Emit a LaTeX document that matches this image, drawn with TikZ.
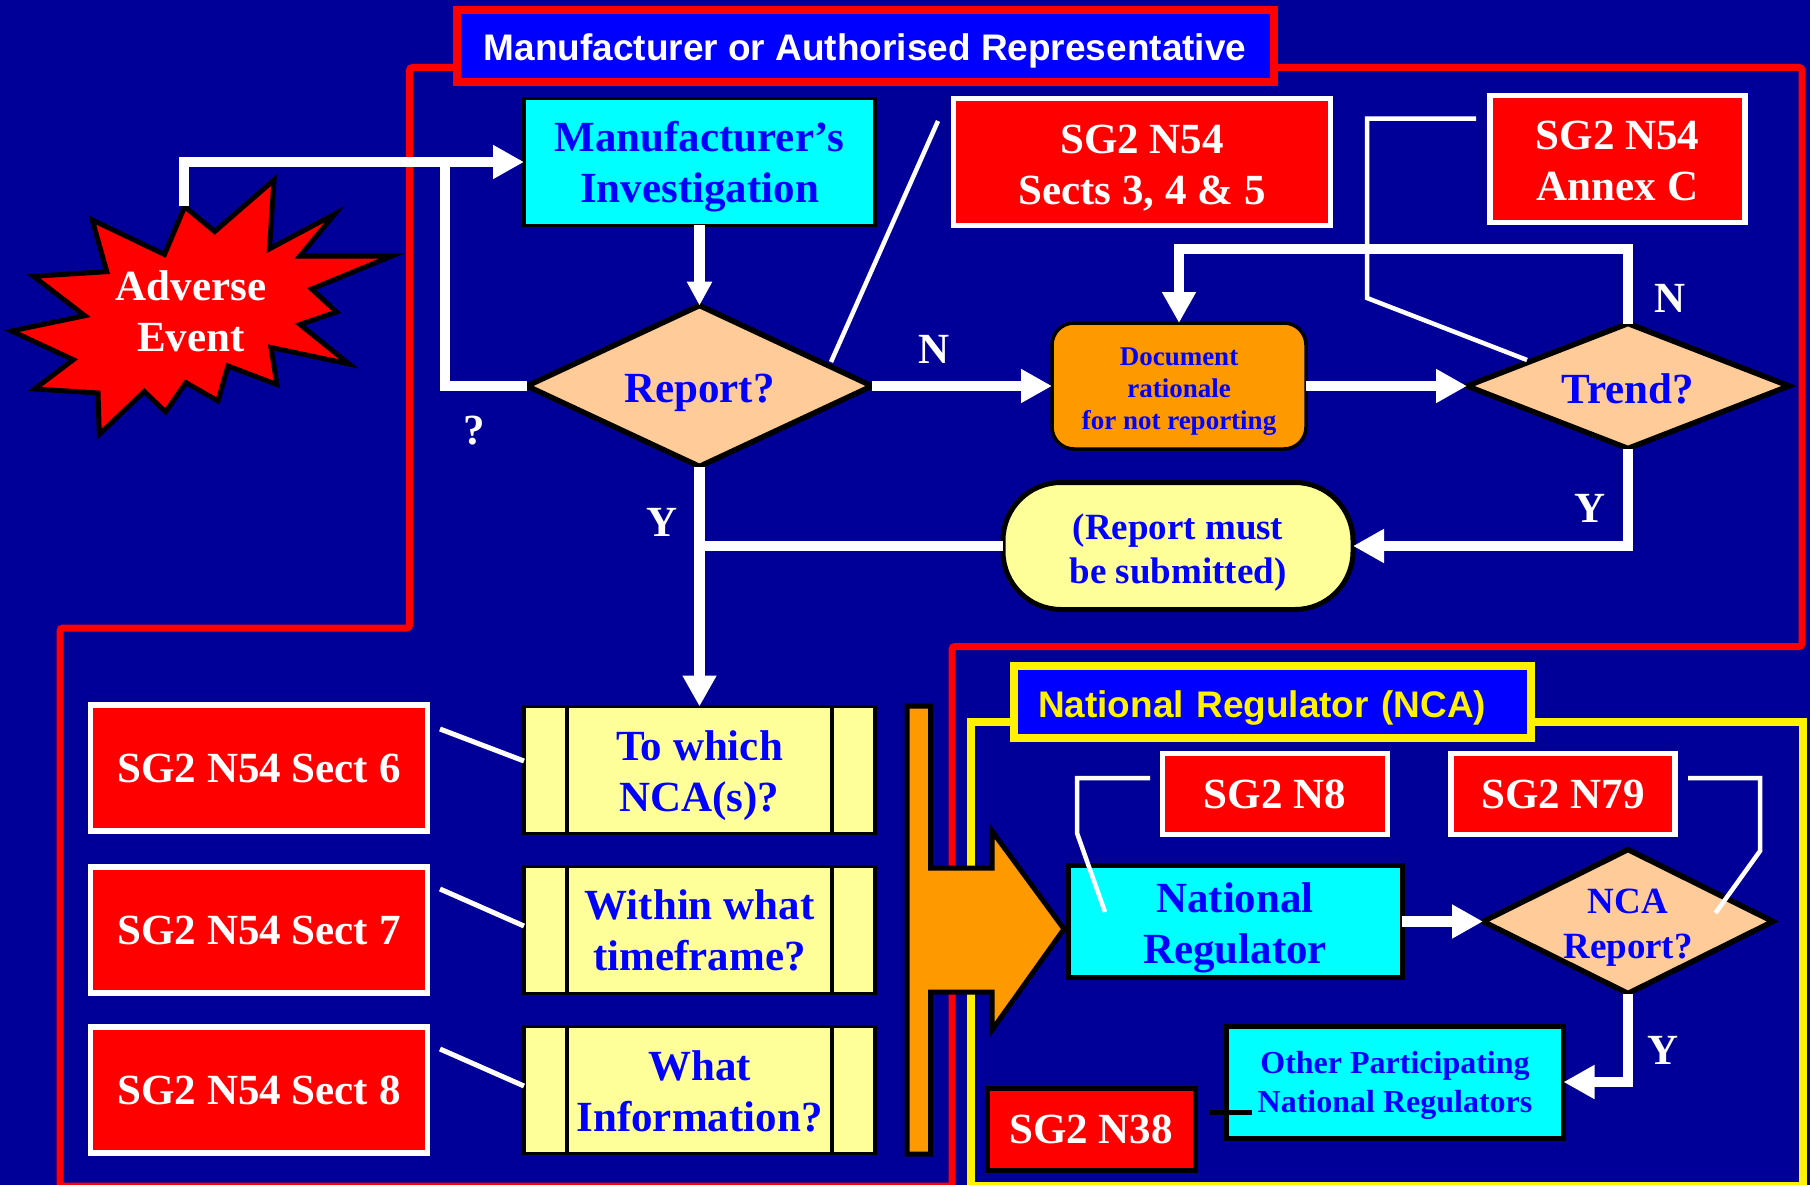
\documentclass[tikz,border=0pt]{standalone}
\usepackage{fontspec}
\setmainfont{Liberation Serif}
\newfontfamily\headfont{Liberation Sans}
\usetikzlibrary{arrows.meta,shapes.geometric}
\definecolor{navybg}{RGB}{0,0,153}
\definecolor{purered}{RGB}{255,0,0}
\definecolor{pureblue}{RGB}{0,0,255}
\definecolor{purecyan}{RGB}{0,255,255}
\definecolor{peach}{RGB}{255,204,153}
\definecolor{paleyellow}{RGB}{255,255,153}
\definecolor{pureorange}{RGB}{255,153,0}
\begin{document}
\begin{tikzpicture}[x=1pt,y=-1pt,
    box/.style={inner sep=0pt,outer sep=0pt,align=center},
    lowered/.style={execute at begin node={\rule{0pt}{#1}}},
    bigtext/.style={font=\bfseries\fontsize{43}{51}\selectfont},
    refbox/.style={box,bigtext,draw=white,line width=5.5pt,fill=purered,text=white},
    regbox/.style={box,bigtext,draw=black,fill=purecyan,text=pureblue},
    question/.style={box,bigtext,draw=black,line width=3.5pt,fill=paleyellow,text=pureblue,minimum width=351pt,minimum height=127pt},
    decision/.style={box,shape=diamond,bigtext,draw=black,line width=5.5pt,fill=peach,text=pureblue},
    titlebox/.style={box,font=\headfont\bfseries\fontsize{37}{44}\selectfont,line width=8pt,fill=pureblue},
    outline/.style={line width=7pt,rounded corners=3pt},
    flow/.style={draw=white,line width=10.5pt},
    flowtip/.style={flow,-{Triangle[length=31pt,width=32pt]}},
    leader/.style={draw=white,line width=4.5pt},
    tag/.style={bigtext,text=white,inner sep=0pt}]
    % Background
    \fill[navybg] (0,0) rectangle (1810,1185);
    \useasboundingbox (0,0) rectangle (1810,1185);
    % Organisation outlines
    \draw[outline,purered] (409.5,67.5) -- (1802,67.5) -- (1802,646.5) -- (952,646.5) -- (952,1186)
        -- (60,1186) -- (60,628) -- (409.5,628) -- cycle;
    \draw[line width=8pt,yellow] (971,722) rectangle (1803,1186);
    \node[titlebox,lowered=36pt,draw=purered,text=white,minimum width=817pt,minimum height=72pt] (mfrtitle) at (865,46)
        {Manufacturer or Authorised Representative};
    \node[titlebox,lowered=38pt,draw=yellow,text=yellow,minimum height=72pt,inner xsep=24pt,text width=469pt,align=left] (ncatitle) at (1272.5,702)
        {National Regulator (NCA)};
    % Adverse event burst
    \draw[line width=5pt,fill=purered,miter limit=10] (184.7,206.7) -- (214.7,231.5) -- (274,180) -- (269.5,248.8)
        -- (334.8,214) -- (300,256) -- (392,256) -- (311.7,289) -- (336.5,312) -- (300,324.5)
        -- (349,364) -- (271,347.5) -- (277,384.6) -- (228,366) -- (218,401) -- (186,382.7)
        -- (165.6,412) -- (144.3,391.5) -- (99.3,434.4) -- (98,393) -- (34.6,389) -- (73.3,359.7)
        -- (11.5,331) -- (84.8,315.7) -- (33.5,276.3) -- (106.8,271.7) -- (92.3,220) -- (164.5,254.5) -- cycle;
    \node[box,bigtext,text=white] (adverse) at (191,311.5) {Adverse\\Event};
    \coordinate (burstTop) at (184,206);
    % Upper flow
    \node[regbox,lowered=91pt,line width=3.5pt,minimum width=351pt,minimum height=127pt] (manuf) at (699.5,162) {Manufacturer’s\\Investigation};
    \node[decision,lowered=42pt,aspect=2.143,minimum width=345pt,minimum height=161pt] (report) at (699.5,386) {Report?};
    \node[box,lowered=92pt,draw=black,line width=3.5pt,fill=pureorange,text=pureblue,rounded corners=22pt,
        font=\bfseries\fontsize{27}{32}\selectfont,minimum width=254pt,minimum height=126pt] (rationale) at (1179,386)
        {Document\\rationale\\for not reporting};
    \node[decision,lowered=36pt,aspect=2.576,minimum width=322pt,minimum height=125pt] (trend) at (1628,386) {Trend?};
    \node[box,lowered=82pt,draw=black,line width=5pt,fill=paleyellow,text=pureblue,rounded corners=58pt,
        font=\bfseries\fontsize{37}{44}\selectfont,minimum width=350pt,minimum height=127pt] (submit) at (1178,546)
        {(Report must\\be submitted)};
    % Guidance references, upper
    \node[refbox,lowered=91pt,minimum width=377pt,minimum height=127pt] (sects) at (1142,162) {SG2 N54\\Sects 3, 4 \& 5};
    \node[refbox,lowered=83pt,minimum width=255pt,minimum height=127pt] (annex) at (1617.5,159) {SG2 N54\\Annex C};
    % Three questions with their references
    \foreach \i/\yr/\yq/\low/\sect/\txt in {1/768/770/92pt/6/{To which\\NCA(s)?},2/930/930/81pt/7/{Within what\\timeframe?},3/1090/1090/84pt/8/{What\\Information?}} {
        \node[refbox,minimum width=337pt,minimum height=126pt] (sect\i) at (259,\yr) {SG2 N54 Sect \sect};
        \node[question,lowered=\low] (ques\i) at (699.5,\yq) {\txt};
        \draw[line width=3.5pt] ([xshift=43pt]ques\i.north west) -- ([xshift=43pt]ques\i.south west);
        \draw[line width=3.5pt] ([xshift=-43pt]ques\i.north east) -- ([xshift=-43pt]ques\i.south east);
    }
    % Big arrow to the regulator
    \draw[line width=5pt,fill=pureorange] (907,706) -- (930.5,706) -- (930.5,868) -- (992,868) -- (992,831) -- (1064,929)
        -- (992,1030) -- (992,992) -- (930.5,992) -- (930.5,1154) -- (907,1154) -- cycle;
    % Regulator flow
    \node[regbox,lowered=94pt,line width=5pt,minimum width=334pt,minimum height=112pt] (natreg) at (1235,921.5) {National\\Regulator};
    \node[decision,lowered=82pt,inner ysep=-9pt,aspect=2.014,font=\bfseries\fontsize{37}{45}\selectfont,minimum width=290pt,minimum height=144pt] (ncareport) at (1628,921.5) {NCA\\Report?};
    \node[regbox,lowered=69pt,line width=5pt,font=\bfseries\fontsize{32}{39}\selectfont,minimum width=337pt,minimum height=112pt] (others) at (1395,1082)
        {Other Participating\\National Regulators};
    \node[refbox,minimum width=225pt,minimum height=81pt] (neight) at (1275,794) {SG2 N8};
    \node[refbox,minimum width=224pt,minimum height=81pt] (nseventy) at (1563,794) {SG2 N79};
    \node[refbox,draw=black,line width=5pt,minimum width=208pt,minimum height=82pt] (nthirty) at (1091,1129.5) {SG2 N38};
    % Connectors
    \coordinate (loopTop) at (445,162);
    \draw[flow] (report.west) -| (loopTop);
    \draw[flowtip] (burstTop) |- (manuf.west);
    \draw[flowtip,-{Triangle[length=24pt,width=24pt]}] (manuf.south) -- (report.north);
    \draw[flowtip] (report.east) -- (rationale.west);
    \draw[flowtip] (rationale.east) -- (trend.west);
    \draw[flowtip] (trend.north) -- ++(0,-74.5) -| (rationale.north);
    \draw[flowtip] (trend.south) |- (submit.east);
    \draw[flow] (submit.west) -- (submit.west -| report.south);
    \draw[flowtip] (report.south) -- (ques1.north);
    \draw[flowtip] (natreg.east) -- (ncareport.west);
    \draw[flowtip] (ncareport.south) |- (others.east);
    % Leader lines
    \coordinate (sectsLead) at (938,121);
    \coordinate (reportLead) at (831,362);
    \draw[leader] (reportLead) -- (sectsLead);
    \coordinate (annexLead) at (1476,118.7);
    \coordinate (trendLead) at (1527,360);
    \draw[leader] (annexLead) -- (1367,118.7) -- (1367,298) -- (trendLead);
    \foreach \i/\ya/\yb in {1/729/761,2/889/926,3/1049/1086} {
        \coordinate (sectLead\i) at (440,\ya);
        \draw[leader,line width=5pt] (sectLead\i) -- (ques\i.west |- 0,\yb);
    }
    \coordinate (neightLead) at (1150,778);
    \coordinate (natregLead) at (1105,912);
    \draw[leader] (neightLead) -- (1077,778) -- (1077,833) -- (natregLead);
    \coordinate (nseventyLead) at (1688,778);
    \coordinate (ncaLead) at (1715.5,913);
    \draw[leader] (nseventyLead) -- (1760,778) -- (1760,851) -- (ncaLead);
    \coordinate (nthirtyLead) at (1209,1112.5);
    \coordinate (othersLead) at (1252,1112.5);
    \draw[line width=5pt] (nthirtyLead) -- (othersLead);
    % Branch labels
    \node[tag] (lblQuery) at (474.5,431) {?};
    \node[tag] (lblNoA) at (934,349) {N};
    \node[tag] (lblYesA) at (662,522) {Y};
    \node[tag] (lblNoB) at (1670,298) {N};
    \node[tag] (lblYesB) at (1590,508) {Y};
    \node[tag] (lblYesC) at (1663,1050) {Y};
\end{tikzpicture}
\end{document}
